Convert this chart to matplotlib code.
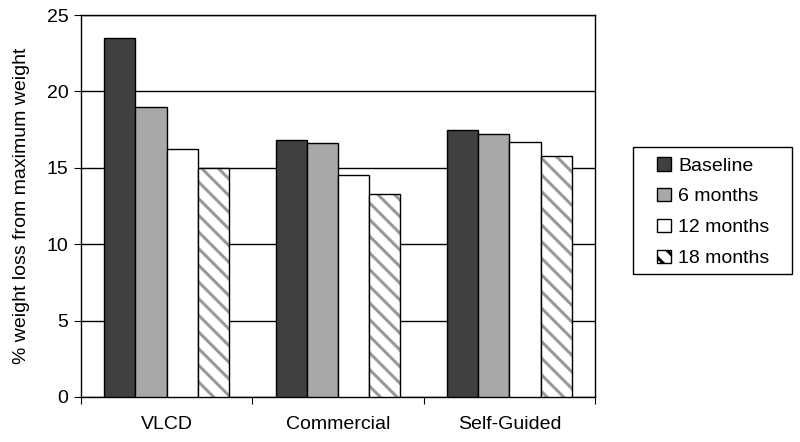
import numpy as np
import matplotlib.pyplot as plt
from matplotlib.patches import Rectangle

plt.rcParams['font.family'] = ['Liberation Sans', 'DejaVu Sans']
plt.rcParams['hatch.linewidth'] = 2.2

groups = ["VLCD", "Commercial", "Self-Guided"]
series = ["Baseline", "6 months", "12 months", "18 months"]
baseline = [23.5, 16.8, 17.5]
six_months = [19.0, 16.6, 17.2]
twelve_months = [16.2, 14.5, 16.7]
eighteen_months = [15.0, 13.3, 15.8]

values = [baseline, six_months, twelve_months, eighteen_months]
colors = ["#404040", "#a8a8a8", "white", "white"]
hatches = [None, None, None, "\\\\"]

fig = plt.figure(figsize=(8, 4.42), dpi=100)
ax = fig.add_axes([0.101, 0.102, 0.643, 0.864])

x = np.arange(len(groups))
w = 0.182
for i, (vals, c, h) in enumerate(zip(values, colors, hatches)):
    pos = x + (i - 1.5) * w
    if h:
        # hatch in grey, outline in black
        ax.bar(pos, vals, w, color=c, edgecolor="#999999", hatch=h,
               linewidth=0, zorder=3)
        ax.bar(pos, vals, w, fill=False, edgecolor="black", linewidth=1,
               zorder=4)
        ax.bar([0], [0], 0, color=c, edgecolor="black", hatch=h,
               linewidth=1, label=series[i])
    else:
        ax.bar(pos, vals, w, color=c, edgecolor="black", linewidth=1,
               zorder=3, label=series[i])

ax.set_ylim(0, 25)
ax.set_xlim(-0.5, 2.5)
ax.set_yticks([0, 5, 10, 15, 20, 25])
ax.yaxis.grid(True, color="black", linewidth=1)
ax.set_axisbelow(True)
ax.set_xticks([-0.5, 0.5, 1.5, 2.5])
ax.set_xticklabels([])
ax.set_xticks(x, minor=True)
ax.set_xticklabels(groups, minor=True, fontsize=14)
ax.tick_params(axis="x", which="minor", length=0, pad=14)
ax.tick_params(axis="x", which="major", length=5, direction="out")
ax.tick_params(axis="y", length=5, direction="out", labelsize=14, pad=4)
ax.set_ylabel("% weight loss from maximum weight", fontsize=14, labelpad=12)
for s in ax.spines.values():
    s.set_linewidth(1)

# legend without its own frame, box drawn separately (wider side padding)
ax.legend(loc="upper left", bbox_to_anchor=(657 / 800, 1 - 157 / 442),
          bbox_transform=fig.transFigure, fontsize=14, frameon=False,
          handlelength=0.7, handleheight=0.7, handletextpad=0.38,
          borderpad=0, borderaxespad=0, labelspacing=0.68)
fig.patches.append(Rectangle((633 / 800, 1 - 274 / 442), 159 / 800, 127 / 442,
                             transform=fig.transFigure, fill=False,
                             edgecolor="black", linewidth=1))

fig.savefig("out.png")
